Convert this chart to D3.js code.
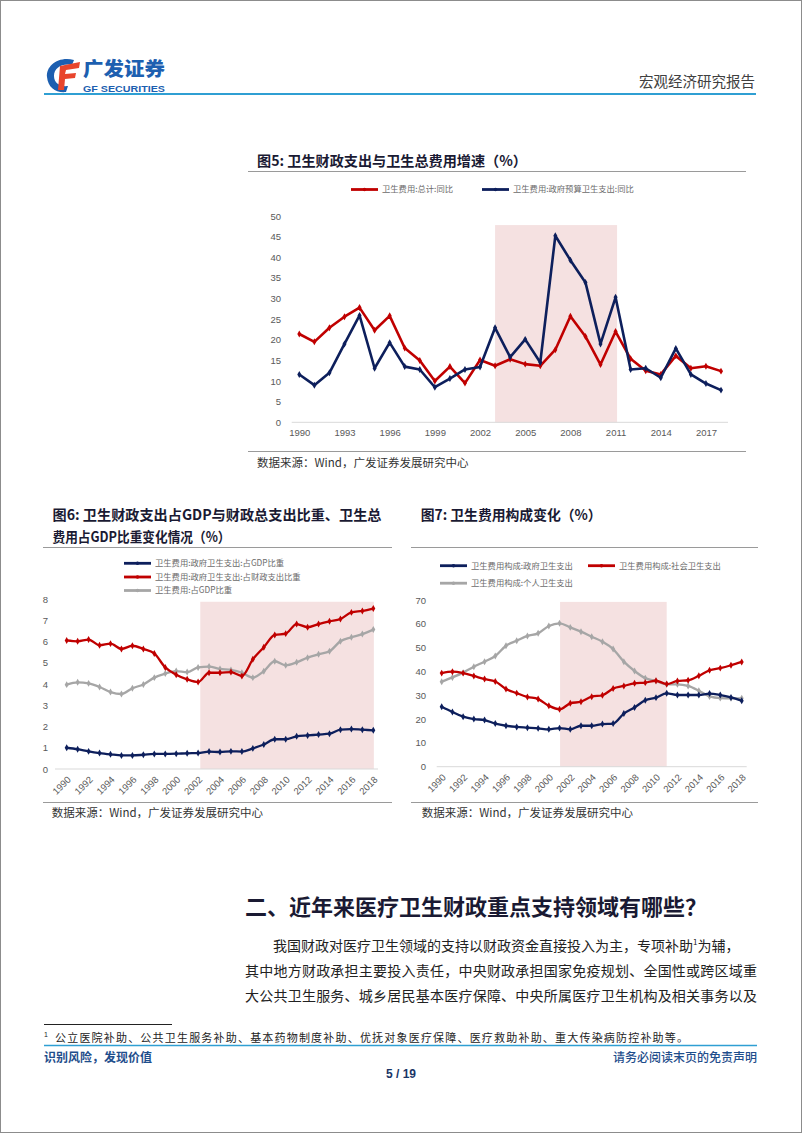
<!DOCTYPE html>
<html><head><meta charset="utf-8">
<script src="https://cdn.jsdelivr.net/npm/d3@7"></script>
<style>
html,body{margin:0;padding:0;background:#fff;}
svg{display:block;}
text{font-family:"Liberation Sans",Arial,"Noto Sans CJK SC",sans-serif;}
.cjk{font-family:"Noto Sans CJK SC",sans-serif;}
</style></head><body>
<svg id="page" width="802" height="1133"></svg>
<script>
// ---------------- DATA ----------------
const years = [1990,1991,1992,1993,1994,1995,1996,1997,1998,1999,2000,2001,2002,2003,2004,2005,2006,2007,2008,2009,2010,2011,2012,2013,2014,2015,2016,2017,2018];

// Fig 5
const fig5Total = [21.4,19.5,22.9,25.6,27.8,22.3,25.8,18.0,15.0,10.0,13.5,9.5,15.1,13.7,15.3,14.1,13.7,17.6,25.7,20.8,14.0,22.0,15.4,12.5,11.6,16.1,13.1,13.6,12.4];
const fig5Gov   = [11.6,9.0,12.0,19.0,25.9,13.1,19.3,13.5,12.8,8.5,10.6,12.8,13.4,22.9,15.8,20.1,14.5,45.2,39.3,33.9,19.0,30.3,12.8,13.1,10.8,17.9,11.6,9.4,7.8];
const fig5XTicks = [1990,1993,1996,1999,2002,2005,2008,2011,2014,2017];
const fig5YTicks = [0,5,10,15,20,25,30,35,40,45,50];
const fig5Shade = [2003.0, 2011.1, 47.8];
const fig5Names = ["卫生费用:总计:同比","卫生费用:政府预算卫生支出:同比"];

// Fig 6
const fig6GovGdp    = [1.00,0.93,0.83,0.75,0.69,0.64,0.64,0.67,0.71,0.71,0.72,0.74,0.75,0.82,0.80,0.83,0.82,0.97,1.15,1.40,1.40,1.54,1.58,1.62,1.66,1.85,1.88,1.85,1.82];
const fig6GovFiscal = [6.05,6.01,6.09,5.82,5.90,5.65,5.80,5.65,5.44,4.78,4.44,4.22,4.09,4.53,4.53,4.56,4.38,5.16,5.73,6.31,6.37,6.82,6.67,6.82,6.95,7.06,7.37,7.44,7.55];
const fig6TotalGdp  = [3.97,4.08,4.03,3.86,3.62,3.53,3.80,3.98,4.30,4.49,4.61,4.56,4.78,4.82,4.71,4.66,4.53,4.30,4.60,5.07,4.88,5.02,5.24,5.40,5.54,6.01,6.20,6.35,6.56];
const fig6XTicks = [1990,1992,1994,1996,1998,2000,2002,2004,2006,2008,2010,2012,2014,2016,2018];
const fig6YTicks = [0,1,2,3,4,5,6,7,8];
const fig6Shade = [2002.2, 2018.05, 7.87];
const fig6Names = ["卫生费用:政府卫生支出:占GDP比重","卫生费用:政府卫生支出:占财政支出比重","卫生费用:占GDP比重"];

// Fig 7
const fig7Gov      = [25.2,23.0,21.0,20.0,19.6,18.1,17.2,16.7,16.4,16.1,15.7,16.2,15.7,17.2,17.2,17.9,18.1,22.3,24.9,27.9,29.0,30.8,30.1,30.1,30.1,30.7,30.1,29.1,27.7];
const fig7Social   = [39.3,39.9,39.3,38.1,36.8,35.8,32.6,30.9,29.3,28.4,25.6,24.1,26.6,27.3,29.4,30.0,32.8,33.9,35.0,35.3,36.1,34.7,36.0,36.3,38.2,40.5,41.4,42.6,44.0];
const fig7Personal = [35.7,37.5,39.5,42.0,44.1,46.5,50.8,52.9,54.9,56.0,59.1,60.2,58.5,56.7,54.6,52.5,49.4,44.1,40.2,37.2,36.0,34.6,34.6,33.9,31.9,29.5,28.8,28.7,28.7];
const fig7XTicks = [1990,1992,1994,1996,1998,2000,2002,2004,2006,2008,2010,2012,2014,2016,2018];
const fig7YTicks = [0,10,20,30,40,50,60,70];
const fig7Shade = [2001.05, 2011.0, 69.2];
const fig7Names = ["卫生费用构成:政府卫生支出","卫生费用构成:社会卫生支出","卫生费用构成:个人卫生支出"];

// ---------------- STYLE ----------------
const RED = "#c00000", NAVY = "#0d1f5c", GREY = "#a6a6a6", SHADE = "#f5e1e1";
const TICK = "#595959", AXIS = "#d9d9d9", BLUE = "#2f9fd3", DARKBLUE = "#1f4e8c";

const svg = d3.select("#page");
svg.append("rect").attr("x",0.5).attr("y",0.5).attr("width",801).attr("height",1132)
  .attr("fill","#fff").attr("stroke","#8c8c8c").attr("stroke-width",1);

// ---------------- HEADER ----------------
const logo = svg.append("g");
logo.append("path").attr("d","M74,60 C58,56 46,66 47,77 C48,88 56,93 66,92 L68,86 C60,87 54,83 54,76 C54,68 62,63 72,65 Z")
  .attr("fill","#1d5fb0");
logo.append("path").attr("d","M60,66 L80,62 L79,68 L66,70 L65,74 L76,73 L75,78 L65,79 L64,90 L58,90 Z")
  .attr("fill","#e8452c");
logo.append("text").attr("class","cjk").attr("x",83).attr("y",76).attr("font-size",19).attr("font-weight",900)
  .attr("fill","#1d5fb0").attr("textLength",82).attr("lengthAdjust","spacingAndGlyphs").text("广发证券");
logo.append("text").attr("x",83).attr("y",92).attr("font-size",9).attr("font-weight",700)
  .attr("fill","#1d5fb0").attr("textLength",82).attr("lengthAdjust","spacingAndGlyphs").text("GF SECURITIES");
svg.append("text").attr("class","cjk").attr("x",755).attr("y",87).attr("text-anchor","end")
  .attr("font-size",14.5).attr("fill","#404040").text("宏观经济研究报告");
svg.append("line").attr("x1",44).attr("x2",756).attr("y1",94).attr("y2",94)
  .attr("stroke",BLUE).attr("stroke-width",2);

// ---------------- helpers ----------------
function title(lines, x, y0, lh, lineX1, lineX2, lineY, widths){
  lines.forEach((t,i)=>{
    const tx = svg.append("text").attr("class","cjk").attr("x",x).attr("y",y0+i*lh)
      .attr("font-size",14).attr("font-weight",700).attr("fill","#1a1a33").text(t);
    if (widths && widths[i]) tx.attr("textLength",widths[i]).attr("lengthAdjust","spacingAndGlyphs");
  });
  svg.append("line").attr("x1",lineX1).attr("x2",lineX2).attr("y1",lineY).attr("y2",lineY)
    .attr("stroke","#9a9a9a").attr("stroke-width",1);
}
function source(x, y, lineX1, lineX2, lineY){
  svg.append("line").attr("x1",lineX1).attr("x2",lineX2).attr("y1",lineY).attr("y2",lineY)
    .attr("stroke","#9a9a9a").attr("stroke-width",1);
  svg.append("text").attr("class","cjk").attr("x",x).attr("y",y).attr("font-size",11.5)
    .attr("fill","#333").text("数据来源：Wind，广发证券发展研究中心");
}
function legendItem(x, y, color, label){
  svg.append("line").attr("x1",x).attr("x2",x+27).attr("y1",y).attr("y2",y)
    .attr("stroke",color).attr("stroke-width",2.8);
  svg.append("circle").attr("cx",x+13.5).attr("cy",y).attr("r",1.8).attr("fill",color);
  svg.append("text").attr("class","cjk").attr("x",x+31).attr("y",y).attr("dy","0.35em")
    .attr("font-size",8.3).attr("fill","#6b6b6b").text(label);
}
function drawSeries(g, x, y, vals, color, width, curve){
  const line = d3.line().x((d,i)=>x(years[i])).y(d=>y(d)).curve(curve);
  g.append("path").datum(vals).attr("d",line).attr("fill","none")
    .attr("stroke",color).attr("stroke-width",width).attr("stroke-linejoin","round");
  g.selectAll(null).data(vals).join("path")
    .attr("d",d3.symbol(d3.symbolDiamond, 14))
    .attr("transform",(d,i)=>`translate(${x(years[i])},${y(d)})`)
    .attr("fill",color);
}

// ---------------- FIG 5 ----------------
title(["图5:  卫生财政支出与卫生总费用增速（%）"], 257, 166, 0, 248, 746, 171.5, [270]);
legendItem(351, 189.5, RED, fig5Names[0]);
legendItem(482, 189.5, NAVY, fig5Names[1]);
{
  const x = d3.scaleLinear().domain([1990,2018]).range([299.3,721]);
  const y = d3.scaleLinear().domain([0,50]).range([422.3,216]);
  const g = svg.append("g");
  g.append("rect").attr("x",x(fig5Shade[0])).attr("width",x(fig5Shade[1])-x(fig5Shade[0]))
    .attr("y",y(fig5Shade[2])).attr("height",y(0)-y(fig5Shade[2])).attr("fill",SHADE);
  g.append("line").attr("x1",291.7).attr("x2",728).attr("y1",y(0)).attr("y2",y(0)).attr("stroke",AXIS);
  const ya = g.append("g").attr("transform",`translate(281,0)`)
    .call(d3.axisLeft(y).tickValues(fig5YTicks).tickSize(0).tickPadding(0));
  ya.select(".domain").remove();
  ya.selectAll("text").attr("font-size",9.5).attr("fill",TICK).attr("font-family","Liberation Sans, Arial");
  const xa = g.append("g").attr("transform",`translate(0,${y(0)})`)
    .call(d3.axisBottom(x).tickValues(fig5XTicks).tickFormat(d3.format("d")).tickSize(0).tickPadding(7));
  xa.select(".domain").remove();
  xa.selectAll("text").attr("font-size",9.5).attr("fill",TICK).attr("font-family","Liberation Sans, Arial");
  drawSeries(g, x, y, fig5Total, RED, 2.6, d3.curveLinear);
  drawSeries(g, x, y, fig5Gov, NAVY, 2.6, d3.curveLinear);
}
source(257, 467, 248, 746, 451.5);

// ---------------- FIG 6 ----------------
title(["图6:  卫生财政支出占GDP与财政总支出比重、卫生总","费用占GDP比重变化情况（%）"], 52.5, 520, 22, 43, 392, 547.5, [329, 178]);
legendItem(124, 563.3, NAVY, fig6Names[0]);
legendItem(124, 577, RED, fig6Names[1]);
legendItem(124, 590.5, GREY, fig6Names[2]);
function rotatedAxis(g, x, y0, ticks){
  const xa = g.append("g").attr("transform",`translate(0,${y0})`)
    .call(d3.axisBottom(x).tickValues(ticks).tickFormat(d3.format("d")).tickSize(0));
  xa.select(".domain").remove();
  xa.selectAll("text").attr("font-size",9.5).attr("fill",TICK).attr("font-family","Liberation Sans, Arial")
    .attr("text-anchor","end").attr("dy","0.35em").attr("y",0)
    .attr("transform","translate(2,9) rotate(-45)");
}
{
  const x = d3.scaleLinear().domain([1990,2018]).range([66.7,373.3]);
  const y = d3.scaleLinear().domain([0,8]).range([769,599]);
  const g = svg.append("g");
  g.append("rect").attr("x",x(fig6Shade[0])).attr("width",x(fig6Shade[1])-x(fig6Shade[0]))
    .attr("y",y(fig6Shade[2])).attr("height",y(0)-y(fig6Shade[2])).attr("fill",SHADE);
  g.append("line").attr("x1",55).attr("x2",378).attr("y1",y(0)).attr("y2",y(0)).attr("stroke",AXIS);
  const ya = g.append("g").attr("transform",`translate(48,0)`)
    .call(d3.axisLeft(y).tickValues(fig6YTicks).tickSize(0).tickPadding(0));
  ya.select(".domain").remove();
  ya.selectAll("text").attr("font-size",9.5).attr("fill",TICK).attr("font-family","Liberation Sans, Arial");
  rotatedAxis(g, x, y(0), fig6XTicks);
  drawSeries(g, x, y, fig6TotalGdp, GREY, 2.3, d3.curveMonotoneX);
  drawSeries(g, x, y, fig6GovGdp, NAVY, 2.3, d3.curveMonotoneX);
  drawSeries(g, x, y, fig6GovFiscal, RED, 2.3, d3.curveMonotoneX);
}
source(51.7, 817, 43, 392, 802.5);

// ---------------- FIG 7 ----------------
title(["图7:  卫生费用构成变化（%）"], 420.7, 520, 0, 411, 758, 547.5, [181]);
legendItem(440, 565.7, NAVY, fig7Names[0]);
legendItem(588, 565.7, RED, fig7Names[1]);
legendItem(440, 583.2, GREY, fig7Names[2]);
{
  const x = d3.scaleLinear().domain([1990,2018]).range([441.7,741.7]);
  const y = d3.scaleLinear().domain([0,70]).range([766.7,600]);
  const g = svg.append("g");
  g.append("rect").attr("x",x(fig7Shade[0])).attr("width",x(fig7Shade[1])-x(fig7Shade[0]))
    .attr("y",y(fig7Shade[2])).attr("height",y(0)-y(fig7Shade[2])).attr("fill",SHADE);
  g.append("line").attr("x1",436.7).attr("x2",746.7).attr("y1",y(0)).attr("y2",y(0)).attr("stroke",AXIS);
  const ya = g.append("g").attr("transform",`translate(426,0)`)
    .call(d3.axisLeft(y).tickValues(fig7YTicks).tickSize(0).tickPadding(0));
  ya.select(".domain").remove();
  ya.selectAll("text").attr("font-size",9.5).attr("fill",TICK).attr("font-family","Liberation Sans, Arial");
  rotatedAxis(g, x, y(0), fig7XTicks);
  drawSeries(g, x, y, fig7Personal, GREY, 2.3, d3.curveMonotoneX);
  drawSeries(g, x, y, fig7Gov, NAVY, 2.3, d3.curveMonotoneX);
  drawSeries(g, x, y, fig7Social, RED, 2.3, d3.curveMonotoneX);
}
source(421.7, 817, 411, 758, 802.5);

// ---------------- BODY TEXT ----------------
svg.append("text").attr("class","cjk").attr("x",245).attr("y",915).attr("font-size",22).attr("font-weight",700)
  .attr("fill","#1a1a33").attr("textLength",462).attr("lengthAdjust","spacingAndGlyphs")
  .text("二、近年来医疗卫生财政重点支持领域有哪些？");
const l1 = svg.append("text").attr("class","cjk").attr("y",951).attr("font-size",14).attr("fill","#222");
l1.append("tspan").attr("x",273).text("我国财政对医疗卫生领域的支持以财政资金直接投入为主，专项补助");
l1.append("tspan").attr("font-size",8).attr("dy",-6).text("1");
l1.append("tspan").attr("dy",6).text("为辅，");
svg.append("text").attr("class","cjk").attr("x",245).attr("y",976).attr("font-size",14).attr("fill","#222")
  .attr("textLength",512).attr("lengthAdjust","spacing")
  .text("其中地方财政承担主要投入责任，中央财政承担国家免疫规划、全国性或跨区域重");
svg.append("text").attr("class","cjk").attr("x",245).attr("y",1001).attr("font-size",14).attr("fill","#222")
  .attr("textLength",512).attr("lengthAdjust","spacing")
  .text("大公共卫生服务、城乡居民基本医疗保障、中央所属医疗卫生机构及相关事务以及");

// footnote
svg.append("line").attr("x1",44).attr("x2",172).attr("y1",1024.5).attr("y2",1024.5).attr("stroke","#222").attr("stroke-width",1);
svg.append("text").attr("x",44).attr("y",1037).attr("font-size",7).attr("fill","#222").text("1");
svg.append("text").attr("class","cjk").attr("x",55).attr("y",1042).attr("font-size",11).attr("fill","#222")
  .attr("textLength",633).attr("lengthAdjust","spacing")
  .text("公立医院补助、公共卫生服务补助、基本药物制度补助、优抚对象医疗保障、医疗救助补助、重大传染病防控补助等。");
svg.append("line").attr("x1",44).attr("x2",757).attr("y1",1045.5).attr("y2",1045.5).attr("stroke",BLUE).attr("stroke-width",1.5);
svg.append("text").attr("class","cjk").attr("x",44).attr("y",1062).attr("font-size",12).attr("font-weight",700)
  .attr("fill",DARKBLUE).text("识别风险，发现价值");
svg.append("text").attr("class","cjk").attr("x",757).attr("y",1062).attr("font-size",12).attr("font-weight",500)
  .attr("text-anchor","end").attr("fill",DARKBLUE).text("请务必阅读末页的免责声明");
svg.append("text").attr("x",401).attr("y",1078).attr("font-size",12).attr("font-weight",700)
  .attr("text-anchor","middle").attr("fill","#1a3566").text("5 / 19");
</script>
</body></html>
